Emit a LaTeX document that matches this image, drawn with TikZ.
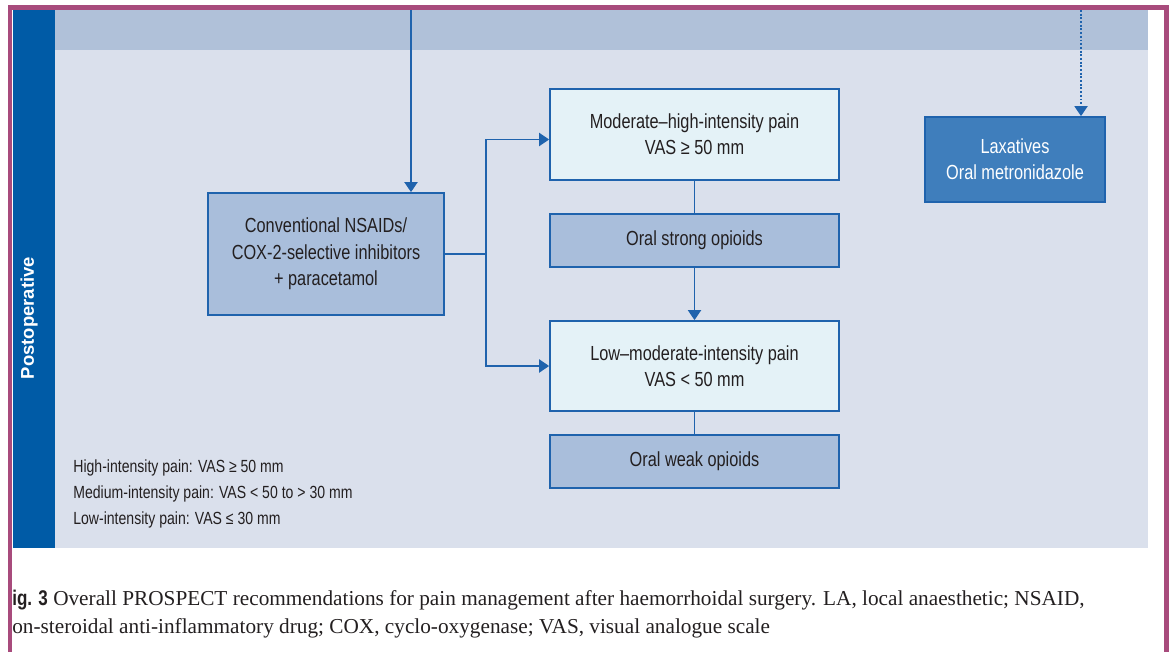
\documentclass[tikz,border=0pt]{standalone}
\usepackage{fontspec}
\setmainfont[FakeStretch=0.8]{Liberation Sans}
\newfontfamily\sidefont{Liberation Sans}
\newfontfamily\capserif{Liberation Serif}
\usetikzlibrary{arrows.meta, positioning, calc}
\definecolor{rimpink}{HTML}{A84B7C}
\definecolor{sideblue}{HTML}{005BA6}
\definecolor{bandblue}{HTML}{B0C1D9}
\definecolor{panelgray}{HTML}{DAE0EC}
\definecolor{midfill}{HTML}{A9BEDB}
\definecolor{palefill}{HTML}{E4F2F7}
\definecolor{darkfill}{HTML}{3F7EBC}
\definecolor{boxline}{HTML}{1F63AD}
\definecolor{ink}{HTML}{231F20}
\tikzset{
  midbox/.style ={rectangle, draw=boxline, line width=1pt, fill=midfill,
                  text=ink, align=center, inner sep=0pt,
                  font=\fontsize{11.6}{15}\selectfont},
  palebox/.style={rectangle, draw=boxline, line width=1pt, fill=palefill,
                  text=ink, align=center, inner sep=0pt,
                  minimum width=5.78cm, font=\fontsize{11.6}{14.7}\selectfont},
  darkbox/.style={rectangle, draw=boxline, line width=1pt, fill=darkfill,
                  text=white, align=center, inner sep=0pt,
                  minimum width=3.6cm, minimum height=1.7cm,
                  font=\fontsize{11.6}{14.7}\selectfont},
  keytext/.style={anchor=base west, inner sep=0pt, text=ink,
                  font=\fontsize{10}{12}\selectfont},
  captext/.style={anchor=base west, inner sep=0pt, text=ink,
                  font=\capserif\fontsize{12.1}{14}\selectfont},
  link/.style   ={draw=boxline, line width=1.1pt},
  arr/.style    ={link, -{Triangle[length=0.2cm, width=0.26cm]}}
}

\begin{document}
\begin{tikzpicture}[x=0.02cm, y=-0.02cm]
  \useasboundingbox (0,0) rectangle (1173,652);
  % panel and frame
  \fill[panelgray] (13,10) rectangle (1148,548);
  \fill[bandblue] (55,10) rectangle (1148,50);
  \fill[sideblue] (13,10) rectangle (55,548);
  \draw[rimpink, line width=0.1cm] (10,670) -- (10,7.5) -- (1166.5,7.5) -- (1166.5,670);
  \node[rotate=90, text=white, font=\sidefont\bfseries\fontsize{10.5}{12}\selectfont]
    (phase) at (29,318) {Postoperative};

  \node[midbox, minimum width=4.72cm, minimum height=2.44cm] (nsaid) at (326,254)
    {Conventional NSAIDs/\\COX-2-selective inhibitors\\+ paracetamol};
  \node[palebox, minimum height=1.82cm] (modhigh) at (694.5,134.5)
    {Moderate--high-intensity pain\\VAS ≥ 50 mm};
  \node[midbox, minimum width=5.78cm, minimum height=1.06cm] (strong) at (694.5,240.5)
    {Oral strong opioids};
  \node[palebox, minimum height=1.8cm] (lowmod) at (694.5,366)
    {Low--moderate-intensity pain\\VAS < 50 mm};
  \node[midbox, minimum width=5.78cm, minimum height=1.06cm] (weak) at (694.5,461.5)
    {Oral weak opioids};
  \node[darkbox] (laxa) at (1015,159.5) {Laxatives\\Oral metronidazole};

  \coordinate (topa) at (411,10);
  \coordinate (topb) at (1081,10);
  \draw[arr] (topa) -- (topa |- nsaid.north);
  \draw[arr, densely dotted] (topb) -- (topb |- laxa.north);
  \draw[arr] (nsaid.east) -- ++(41,0) coordinate (fork) |- ([yshift=-0.1cm]modhigh.west);
  \draw[arr] (fork) |- (lowmod.west);
  \draw[link] (modhigh) -- (strong);
  \draw[arr] (strong) -- (lowmod);
  \draw[link] (lowmod) -- (weak);

  % key
  \node[keytext] (key1) at (73,472) {High-intensity pain: VAS ≥ 50 mm};
  \node[keytext] (key2) at (73,498) {Medium-intensity pain: VAS < 50 to > 30 mm};
  \node[keytext] (key3) at (73,524) {Low-intensity pain: VAS ≤ 30 mm};

  % caption
  \node[captext] (cap1) at (12,605) {{\rmfamily\bfseries ig. 3} Overall PROSPECT recommendations for pain management after haemorrhoidal surgery. LA, local anaesthetic; NSAID,};
  \node[captext] (cap2) at (12,633) {on-steroidal anti-inflammatory drug; COX, cyclo-oxygenase; VAS, visual analogue scale};
\end{tikzpicture}
\end{document}
